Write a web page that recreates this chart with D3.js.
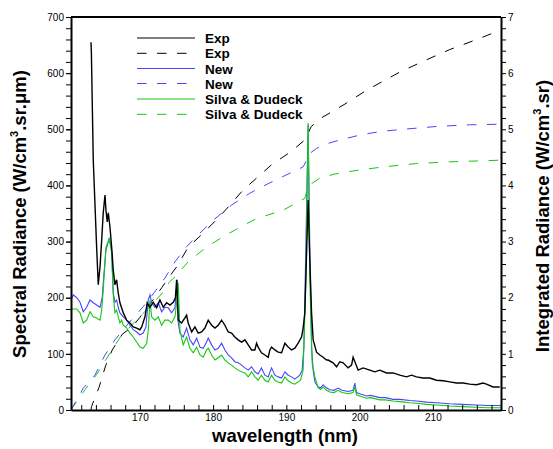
<!DOCTYPE html>
<html>
<head>
<meta charset="utf-8">
<script src="https://cdn.jsdelivr.net/npm/d3@7"></script>
<style>
  html, body { margin: 0; padding: 0; background: #fff; }
  svg { display: block; }
  text { font-family: "Liberation Sans", Arial, Helvetica, sans-serif; }
</style>
</head>
<body>
<svg id="chart" width="553" height="449"></svg>
<script>
// ---- spectral radiance (left axis, W/cm3.sr.um) ----
const expWl = [163.33,163.38,163.64,164.10,164.32,164.56,164.79,165.00,165.24,165.37,165.55,165.69,165.92,166.15,166.37,166.60,166.83,167.05,167.28,167.74,168.20,168.65,169.10,169.56,170.01,170.25,170.70,171.00,171.38,171.83,172.29,172.74,173.19,173.66,174.11,174.56,174.85,175.02,175.24,175.70,176.15,176.38,176.60,177.07,177.52,177.97,178.43,178.88,179.33,179.80,180.25,180.70,181.16,181.61,182.06,182.52,182.97,183.42,183.89,184.34,184.79,185.25,185.70,185.93,186.15,186.60,187.07,187.52,187.75,187.98,188.43,188.88,189.35,189.80,190.25,190.71,191.16,191.61,192.07,192.29,192.52,192.73,192.97,193.20,193.44,193.66,194.12,194.57,195.02,195.48,195.70,196.38,196.85,197.30,197.75,198.43,198.90,199.11,199.35,199.80,200.48,201.39,202.07,202.76,203.67,204.57,205.48,206.40,207.08,207.76,208.66,209.58,210.49,211.39,212.31,213.22,214.12,215.03,215.95,216.85,217.31,218.21,219.13];
const expSpec = [655,638,445,290,223,255,303,351,383,356,335,351,326,290,249,223,232,208,191,173,160,155,148,146,143,148,166,191,183,192,182,196,183,191,187,192,200,232,160,155,164,169,155,139,148,137,139,146,160,151,146,151,160,151,139,137,130,125,121,125,116,107,107,119,112,102,98,94,107,112,107,103,102,119,112,107,110,119,130,146,173,267,374,267,173,125,103,98,94,89,89,84,77,86,84,75,80,94,86,71,75,71,68,71,66,66,62,59,62,59,57,57,53,52,50,48,48,46,45,48,46,41,41];

const newWl = [160.60,160.91,161.38,161.83,162.28,162.74,163.19,163.64,164.10,164.56,164.87,165.00,165.37,165.82,166.15,166.37,166.60,166.83,167.05,167.28,167.74,168.20,168.65,169.10,169.56,170.01,170.46,170.83,171.15,171.38,171.61,172.06,172.51,172.97,173.42,173.87,174.34,174.79,175.02,175.10,175.24,175.47,175.92,176.38,176.83,177.29,177.75,178.20,178.65,179.11,179.33,179.80,180.25,180.70,181.16,181.61,182.06,182.52,182.97,183.42,183.89,184.34,184.79,185.25,185.70,186.15,186.60,187.07,187.52,187.98,188.43,188.88,189.35,189.80,190.25,190.71,191.16,191.84,192.15,192.39,192.66,192.97,193.20,193.44,193.66,193.90,194.35,194.70,195.02,195.40,195.93,196.50,197.07,197.60,198.43,199.10,199.35,199.58,200.20,200.94,201.50,202.76,203.50,204.57,205.50,206.85,207.80,209.13,210.50,212.31,214.00,215.95,217.50,219.30];
const newSpec = [196,205,200,192,175,183,196,191,187,183,201,226,285,306,285,208,192,196,183,173,166,160,151,143,139,134,137,148,196,205,191,183,191,175,183,182,173,182,219,232,155,137,130,146,125,116,128,112,110,121,128,116,107,110,119,107,98,93,86,84,80,75,71,77,68,64,75,62,59,75,62,59,57,68,62,59,55,62,71,112,290,508,290,112,70,50,41,40,45,40,36,35,39,35,33,35,48,31,28,25,26,22,22,19,19,17,16,14,13,11,10,9,8,8];

const silvaWl = [160.60,160.91,161.38,161.83,162.28,162.74,163.19,163.64,164.10,164.56,164.79,165.00,165.37,165.82,166.15,166.37,166.60,166.83,167.05,167.28,167.51,167.74,168.20,168.65,169.10,169.56,170.01,170.46,170.93,171.15,171.38,171.61,172.06,172.51,172.97,173.42,173.87,174.34,174.79,175.02,175.24,175.47,175.92,176.38,176.83,177.29,177.75,178.20,178.65,179.11,179.33,179.80,180.25,180.70,181.16,181.61,182.06,182.52,182.97,183.42,183.89,184.34,184.79,185.25,185.70,186.15,186.60,187.07,187.52,187.98,188.43,188.88,189.35,189.80,190.25,190.71,191.16,191.93,192.29,192.66,192.97,193.20,193.52,193.89,194.35,194.70,195.02,195.40,195.93,196.50,197.07,197.60,198.43,199.10,199.35,199.58,200.20,200.94,201.50,202.76,203.50,204.57,205.50,206.85,207.80,209.13,210.50,212.31,214.00,215.95,217.50,219.30];
const silvaSpec = [179,180,180,173,155,160,175,166,164,160,178,214,290,305,280,205,173,178,166,155,160,151,146,137,130,121,112,110,119,142,196,166,160,166,151,160,160,155,166,191,226,142,116,130,110,102,112,98,94,107,110,98,89,93,98,89,84,80,75,71,68,66,59,68,59,53,62,53,50,62,53,50,48,59,52,48,46,53,71,232,511,232,84,59,39,37,41,36,32,31,35,31,29,31,41,27,24,21,22,18,18,16,15,13,12,10,9,7,6,5,4,4];

// ---- integrated radiance (right axis, W/cm3.sr) ----
const expIntWl = [163.33,163.40,164.42,165.33,166.23,167.60,168.96,170.00,171.00,172.00,173.00,174.00,175.02,176.60,178.65,180.70,182.30,184.10,185.93,187.90,190.60,192.52,193.40,195.00,198.00,201.00,205.50,209.00,212.30,216.00,219.30];
const expInt = [0,0.06,0.40,0.79,1.07,1.35,1.48,1.65,1.82,2.00,2.18,2.37,2.55,2.90,3.15,3.42,3.65,3.92,4.13,4.36,4.60,4.81,5.05,5.22,5.45,5.70,6.02,6.23,6.42,6.60,6.77];

const newIntWl = [160.60,162.28,163.87,165.24,166.60,168.42,170.46,172.06,173.42,174.79,176.38,178.20,180.00,182.52,185.00,187.50,189.56,192.29,192.75,193.20,194.12,195.48,197.30,199.50,201.40,203.50,205.93,210.50,215.00,219.30];
const newInt = [0,0.39,0.62,0.98,1.25,1.54,1.84,2.11,2.35,2.64,2.91,3.15,3.38,3.65,3.86,4.03,4.16,4.33,4.45,4.57,4.66,4.74,4.81,4.88,4.93,4.97,5.00,5.05,5.08,5.09];

const silvaIntWl = [160.60,160.90,162.50,164.10,165.90,167.28,169.50,171.60,172.97,174.10,174.79,176.60,178.88,181.38,183.89,185.93,189.56,192.52,192.80,193.20,194.57,196.50,198.66,203.20,207.76,212.31,219.30];
const silvaInt = [0,0.06,0.36,0.63,1.01,1.29,1.60,1.87,2.07,2.29,2.37,2.64,2.88,3.09,3.27,3.41,3.56,3.77,3.90,4.01,4.13,4.20,4.25,4.33,4.39,4.42,4.45];

// ---- axes ----
const wlDomain = [160.6, 219.3];
const leftTicks = [0,100,200,300,400,500,600,700];
const leftMinor = d3.range(0, 700.001, 20);
const rightTicks = d3.range(0, 7.0001, 0.2);
const bottomTicks = d3.range(162, 219, 2);
const bottomLabels = [170,180,190,200,210];

const legendLabels = ["Exp","Exp","New","New","Silva & Dudeck","Silva & Dudeck"];
const legendColors = ["#000000","#000000","#4646ff","#4646ff","#12c812","#12c812"];
const legendDashed = [false,true,false,true,false,true];

const svg = d3.select("#chart");
const L = 71, R = 501, T = 17, B = 410;

const x = d3.scaleLinear().domain(wlDomain).range([L, R]);
const yL = d3.scaleLinear().domain([0, 700]).range([B, T]);
const yR = d3.scaleLinear().domain([0, 7]).range([B, T]);

svg.append("defs").append("clipPath").attr("id", "plotClip")
  .append("rect").attr("x", L).attr("y", T).attr("width", R - L).attr("height", B - T);

const plot = svg.append("g").attr("clip-path", "url(#plotClip)");

const zip = (a, b) => a.map((d, i) => [d, b[i]]);
const lineL = d3.line().x(d => x(d[0])).y(d => yL(d[1]));
const lineR = d3.line().x(d => x(d[0])).y(d => yR(d[1]));

const DASH = "9.5,10.5";

// integrated curves (dashed)
plot.append("path").attr("d", lineR(zip(silvaIntWl, silvaInt)))
  .attr("fill", "none").attr("stroke", legendColors[5]).attr("stroke-width", 1).attr("stroke-dasharray", DASH);
plot.append("path").attr("d", lineR(zip(newIntWl, newInt)))
  .attr("fill", "none").attr("stroke", legendColors[3]).attr("stroke-width", 1).attr("stroke-dasharray", DASH);
plot.append("path").attr("d", lineR(zip(expIntWl, expInt)))
  .attr("fill", "none").attr("stroke", "#000").attr("stroke-width", 1).attr("stroke-dasharray", DASH);

// spectral curves (solid)
plot.append("path").attr("d", lineL(zip(newWl, newSpec)))
  .attr("fill", "none").attr("stroke", legendColors[2]).attr("stroke-width", 1.1);
plot.append("path").attr("d", lineL(zip(silvaWl, silvaSpec)))
  .attr("fill", "none").attr("stroke", legendColors[4]).attr("stroke-width", 1.1);
plot.append("path").attr("d", lineL(zip(expWl, expSpec)))
  .attr("fill", "none").attr("stroke", "#000").attr("stroke-width", 1.4);

// left axis
const axL = svg.append("g").attr("transform", `translate(${L},0)`)
  .call(d3.axisLeft(yL).tickValues(leftTicks).tickSizeInner(5).tickSizeOuter(0).tickPadding(2));
svg.append("g").attr("transform", `translate(${L},0)`)
  .call(d3.axisLeft(yL).tickValues(leftMinor).tickSizeInner(5).tickSizeOuter(0).tickFormat(""))
  .call(g => g.select(".domain").remove());

// right axis
const axR = svg.append("g").attr("transform", `translate(${R},0)`)
  .call(d3.axisRight(yR).tickValues(rightTicks).tickSizeInner(5).tickSizeOuter(0).tickPadding(2)
    .tickFormat(d => Math.abs(d - Math.round(d)) < 1e-6 ? String(Math.round(d)) : ""));

// bottom axis (ticks point into the plot)
const axB = svg.append("g").attr("transform", `translate(0,${B})`)
  .call(d3.axisBottom(x).tickValues(bottomTicks).tickSizeInner(-5).tickSizeOuter(0).tickPadding(4)
    .tickFormat(d => bottomLabels.includes(d) ? String(d) : ""));

// frame top
svg.append("line").attr("x1", L).attr("x2", R).attr("y1", T).attr("y2", T)
  .attr("stroke", "#000").attr("stroke-width", 2);

svg.selectAll(".domain").attr("stroke", "#000").attr("stroke-width", 2);
svg.selectAll(".tick line").attr("stroke", "#000").attr("stroke-width", 1);
svg.selectAll(".tick text").attr("font-size", 10).attr("fill", "#000")
  .attr("font-family", "'Liberation Sans', Arial, sans-serif");

// axis titles
const titleFont = 18.5;
svg.append("text").attr("x", 285).attr("y", 442).attr("text-anchor", "middle")
  .attr("font-size", titleFont).attr("font-weight", "bold").text("wavelength (nm)");

const tl = svg.append("text").attr("transform", "translate(26,214) rotate(-90)")
  .attr("text-anchor", "middle").attr("font-size", titleFont).attr("font-weight", "bold");
tl.append("tspan").text("Spectral Radiance (W/cm");
tl.append("tspan").attr("font-size", 11).attr("dy", -8).text("3");
tl.append("tspan").attr("dy", 8).text(".sr.\u03bcm)");

const tr = svg.append("text").attr("transform", "translate(549,216) rotate(-90)")
  .attr("text-anchor", "middle").attr("font-size", titleFont).attr("font-weight", "bold");
tr.append("tspan").text("Integrated Radiance (W/cm");
tr.append("tspan").attr("font-size", 11).attr("dy", -8).text("3");
tr.append("tspan").attr("dy", 8).text(".sr)");

// legend
const legendY = [38, 53.3, 68.5, 83.5, 99, 114.3];
const lg = svg.append("g");
legendLabels.forEach((lab, i) => {
  lg.append("line").attr("x1", 137).attr("x2", 195).attr("y1", legendY[i]).attr("y2", legendY[i])
    .attr("stroke", legendColors[i]).attr("stroke-width", 1)
    .attr("stroke-dasharray", legendDashed[i] ? DASH : null);
  lg.append("text").attr("x", 205).attr("y", legendY[i] + 5).attr("font-size", 13.5)
    .attr("font-weight", "bold").text(lab);
});
</script>
</body>
</html>
